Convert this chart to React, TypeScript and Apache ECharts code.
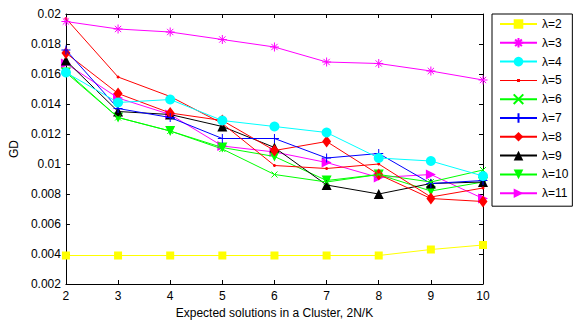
import React, { useEffect, useRef } from "react";
import * as echarts from "echarts";

const xValues = [2, 3, 4, 5, 6, 7, 8, 9, 10];
const seriesNames = ["λ=2", "λ=3", "λ=4", "λ=5", "λ=6", "λ=7", "λ=8", "λ=9", "λ=10", "λ=11"];
const lambda2 = [0.0039, 0.0039, 0.0039, 0.0039, 0.0039, 0.0039, 0.0039, 0.0043, 0.0046];
const lambda3 = [0.0195, 0.019, 0.0188, 0.0183, 0.0178, 0.0168, 0.0167, 0.0162, 0.0156];
const lambda4 = [0.0161, 0.0141, 0.0143, 0.0129, 0.0125, 0.0121, 0.0104, 0.0102, 0.0092];
const lambda5 = [0.0197, 0.0158, 0.0145, 0.0127, 0.0099, 0.0097, 0.01, 0.0078, 0.0084];
const lambda6 = [0.0162, 0.0131, 0.0122, 0.011, 0.0093, 0.0088, 0.0093, 0.0088, 0.0096];
const lambda7 = [0.0176, 0.0137, 0.0131, 0.0117, 0.0117, 0.0104, 0.0107, 0.0087, 0.0089];
const lambda8 = [0.0174, 0.0147, 0.0134, 0.0129, 0.0109, 0.0115, 0.0093, 0.0077, 0.0075];
const lambda9 = [0.0169, 0.0135, 0.0133, 0.0125, 0.0111, 0.0086, 0.008, 0.0087, 0.0088];
const lambda10 = [0.0161, 0.0131, 0.0122, 0.0111, 0.0105, 0.0089, 0.0093, 0.0082, 0.0088];
const lambda11 = [0.0167, 0.0144, 0.0133, 0.0112, 0.0108, 0.0101, 0.0091, 0.0093, 0.0077];
const yTicks = { min: 0.002, max: 0.02, interval: 0.002 };

const allValues = [lambda2, lambda3, lambda4, lambda5, lambda6, lambda7, lambda8, lambda9, lambda10, lambda11];
const colors = ["#ffff00", "#ff00ff", "#00ffff", "#ff0000", "#00ff00", "#0000ff", "#ff0000", "#000000", "#00ff00", "#ff00ff"];
const symbols = [
  "rect",
  "path://M5,0L5,10M0,5L10,5M1.5,1.5L8.5,8.5M8.5,1.5L1.5,8.5",
  "circle",
  "circle",
  "path://M0,0L10,10M10,0L0,10",
  "path://M5,0L5,10M0,5L10,5",
  "diamond",
  "triangle",
  "path://M0,0L10,0L5,9Z",
  "path://M0,0L9,5L0,10Z",
];
const symbolSizes: any[] = [8, 9, 10, 3, 6, 9, [9, 12], 10, 10, 10];
const strokeOnly = [false, true, false, false, true, true, false, false, false, false];
const smallDotLegendIcon = "path://M0,5.5L37,5.5L37,6.5L0,6.5Z M17,4.5L20,4.5L20,7.5L17,7.5Z";

const FONT = "'Liberation Sans', Arial, sans-serif";

export default function App() {
  const ref = useRef<HTMLDivElement>(null);
  useEffect(() => {
    if (!ref.current) return;
    const chart = echarts.init(ref.current, null, { renderer: "svg" });
    const series = seriesNames.map((name, i) => ({
      name,
      type: "line",
      data: xValues.map((x, j) => [x, allValues[i][j]]),
      symbol: symbols[i],
      symbolSize: symbolSizes[i],
      showSymbol: true,
      lineStyle: { color: colors[i], width: 1 },
      itemStyle: strokeOnly[i]
        ? { color: "transparent", borderColor: colors[i], borderWidth: 1 }
        : { color: colors[i], borderColor: colors[i], borderWidth: 0 },
      emphasis: { disabled: true },
      z: 10 - i,
    }));
    const axisCommon = {
      type: "value",
      axisLine: { show: true, lineStyle: { color: "#000", width: 1 } },
      axisTick: { show: true, inside: true, length: 4, lineStyle: { color: "#000" } },
      splitLine: { show: false },
    };
    chart.setOption({
      animation: false,
      backgroundColor: "#fff",
      textStyle: { fontFamily: FONT },
      grid: { left: 50, right: 90, top: 14, bottom: 40 },
      legend: {
        orient: "vertical",
        left: 492,
        top: 14,
        padding: [4, 4, 7, 7],
        itemWidth: 37,
        itemHeight: 12,
        itemGap: 6.8,
        borderColor: "#000",
        borderWidth: 1,
        backgroundColor: "#fff",
        textStyle: { fontSize: 12, color: "#000", fontFamily: FONT, lineHeight: 12 },
        data: seriesNames.map((n, i) => (i === 3 ? { name: n, icon: smallDotLegendIcon } : { name: n })),
      },
      xAxis: [
        {
          ...axisCommon,
          min: 2,
          max: 10,
          interval: 1,
          position: "bottom",
          name: "Expected solutions in a Cluster, 2N/K",
          nameLocation: "middle",
          nameGap: 22,
          nameTextStyle: { fontSize: 12, color: "#000", fontFamily: FONT },
          axisLabel: { fontSize: 12, color: "#000", margin: 6, fontFamily: FONT },
        },
        {
          ...axisCommon,
          min: 2,
          max: 10,
          interval: 1,
          position: "top",
          axisLabel: { show: false },
        },
      ],
      yAxis: [
        {
          ...axisCommon,
          min: yTicks.min,
          max: yTicks.max,
          interval: yTicks.interval,
          position: "left",
          name: "GD",
          nameLocation: "middle",
          nameGap: 34,
          nameTextStyle: { fontSize: 12, color: "#000", fontFamily: FONT },
          axisLabel: {
            fontSize: 12,
            color: "#000",
            margin: 5,
            fontFamily: FONT,
            formatter: (v: number) => String(parseFloat(v.toFixed(3))),
          },
        },
        {
          ...axisCommon,
          min: yTicks.min,
          max: yTicks.max,
          interval: yTicks.interval,
          position: "right",
          axisLabel: { show: false },
        },
      ],
      series,
    });
    return () => chart.dispose();
  }, []);
  return <div ref={ref} style={{ position: "absolute", left: 0, top: 0, width: 573, height: 324 }} />;
}
